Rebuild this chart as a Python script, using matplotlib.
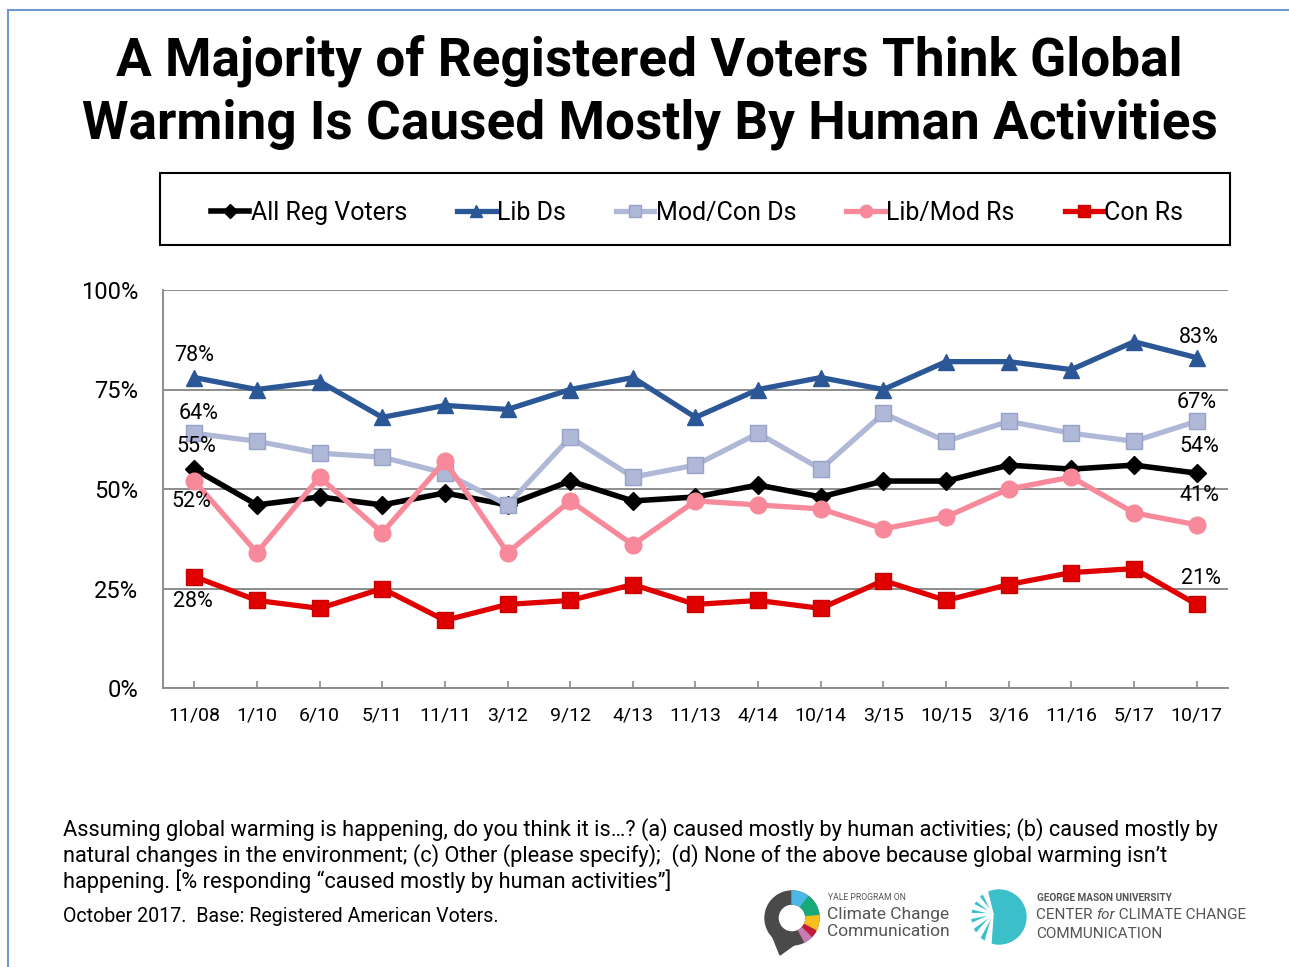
import matplotlib
matplotlib.use('Agg')
import matplotlib.pyplot as plt
from matplotlib.patches import Rectangle, Wedge, Circle, Polygon
from matplotlib.lines import Line2D
import numpy as np

plt.rcParams['font.family'] = ['Roboto', 'DejaVu Sans']

W, H = 1289, 967

dates = ['11/08', '1/10', '6/10', '5/11', '11/11', '3/12', '9/12', '4/13', '11/13',
         '4/14', '10/14', '3/15', '10/15', '3/16', '11/16', '5/17', '10/17']
all_reg = [55, 46, 48, 46, 49, 46, 52, 47, 48, 51, 48, 52, 52, 56, 55, 56, 54]
lib_ds = [78, 75, 77, 68, 71, 70, 75, 78, 68, 75, 78, 75, 82, 82, 80, 87, 83]
modcon_ds = [64, 62, 59, 58, 54, 46, 63, 53, 56, 64, 55, 69, 62, 67, 64, 62, 67]
libmod_rs = [52, 34, 53, 39, 57, 34, 47, 36, 47, 46, 45, 40, 43, 50, 53, 44, 41]
con_rs = [28, 22, 20, 25, 17, 21, 22, 26, 21, 22, 20, 27, 22, 26, 29, 30, 21]
series_names = ['All Reg Voters', 'Lib Ds', 'Mod/Con Ds', 'Lib/Mod Rs', 'Con Rs']
y_ticks = [0, 25, 50, 75, 100]
y_tick_labels = ['0%', '25%', '50%', '75%', '100%']

title_lines = ['A Majority of Registered Voters Think Global',
               'Warming Is Caused Mostly By Human Activities']
footer_lines = ['Assuming global warming is happening, do you think it is\u2026? (a) caused mostly by human activities; (b) caused mostly by',
                'natural changes in the environment; (c) Other (please specify);  (d) None of the above because global warming isn\u2019t',
                'happening. [% responding \u201ccaused mostly by human activities\u201d]']
source_line = 'October 2017.  Base: Registered American Voters.'

fig = plt.figure(figsize=(W / 100, H / 100), dpi=100)
fig.patch.set_facecolor('white')
renderer = fig.canvas.get_renderer()


def fx(x):
    return x / W


def fy(y):
    return 1 - y / H


# outer border (top & left visible)
fig.add_artist(Line2D([fx(8), fx(8)], [fy(10), fy(H + 5)], color='#6f97d2', lw=1.5))
fig.add_artist(Line2D([fx(8), fx(W + 5)], [fy(10), fy(10)], color='#6f97d2', lw=1.5))

# Title
t2 = fig.text(fx(650), fy(124), title_lines[1], ha='center', va='center',
              fontsize=38, fontweight='bold', color='black')
bb = t2.get_window_extent(renderer)
tsize = 38 * 1136 / bb.width
t2.set_fontsize(tsize)
t1 = fig.text(fx(649), fy(61), title_lines[0], ha='center', va='center',
              fontsize=tsize, fontweight='bold', color='black')

# Axes
ax = fig.add_axes([fx(163), fy(688), (1228 - 163) / W, (688 - 290) / H])
xs = np.arange(len(dates))
ax.set_xlim(-0.5, len(dates) - 0.5)
ax.set_ylim(0, 100)
ax.set_yticks(y_ticks)
ax.set_yticklabels(y_tick_labels)
ax.set_xticks(xs)
ax.set_xticklabels(dates)
ax.yaxis.grid(True, color='#8c8c8c', lw=1.4)
ax.set_axisbelow(True)
for s in ['top', 'right']:
    ax.spines[s].set_visible(False)
for s in ['left', 'bottom']:
    ax.spines[s].set_color('#8c8c8c')
    ax.spines[s].set_linewidth(1.4)
ax.tick_params(axis='y', length=0, pad=18, labelsize=17)
ax.tick_params(axis='x', length=5, direction='in', pad=13, labelsize=14,
               color='#8c8c8c', width=1.2)

styles = [
    dict(color='black', marker='D', ms=9, mfc='black', mec='black', lw=4.0),
    dict(color='#2b5797', marker='^', ms=11, mfc='#2b5797', mec='#2b5797', lw=3.8),
    dict(color='#b0b8d8', marker='s', ms=11, mfc='#b0b8d8', mec='#98a2c8', lw=3.8),
    dict(color='#f7899a', marker='o', ms=12, mfc='#f7899a', mec='#f7899a', lw=3.8),
    dict(color='#e00000', marker='s', ms=11, mfc='#e00000', mec='#c80000', lw=3.8),
]
data = [all_reg, lib_ds, modcon_ds, libmod_rs, con_rs]
handles = []
for name, vals, st in zip(series_names, data, styles):
    h, = ax.plot(xs, vals, label=name, clip_on=False, **st)
    handles.append(h)

# data labels: (series index, point index, dx px, dy px)
label_specs = [
    (1, 0, 0, 22), (2, 0, 4, 20), (0, 0, 2, 23), (3, 0, -3, -20), (4, 0, -1, -25),
    (1, -1, 2, 20), (2, -1, 0, 19), (0, -1, 3, 27), (3, -1, 3, 29), (4, -1, 4, 26),
]
for si, pi, dx, dy in label_specs:
    vals = data[si]
    idx = pi if pi >= 0 else len(vals) + pi
    ax.annotate(f'{vals[idx]}%', (xs[idx], vals[idx]), xytext=(dx, dy),
                textcoords='offset pixels', ha='center', va='center',
                fontsize=15.5, color='black', annotation_clip=False)

# Legend with separate frame
fig.add_artist(Rectangle((fx(160), fy(245)), (1230 - 160) / W, (245 - 173) / H,
                         fill=False, edgecolor='black', lw=1.5,
                         transform=fig.transFigure))
leg = fig.legend(handles=handles, labels=series_names, loc='center',
                 bbox_to_anchor=(fx(697), fy(213)), ncol=5, frameon=False,
                 fontsize=18, handlelength=1.55, handletextpad=0.05,
                 columnspacing=2.0, markerscale=0.75)

# Footer text
ft = fig.text(fx(63), fy(830), footer_lines[0], ha='left', va='center', fontsize=15,
              color='black')
bb = ft.get_window_extent(renderer)
fsize = 15 * 1155 / bb.width
ft.set_fontsize(fsize)
fig.text(fx(63), fy(856), footer_lines[1], ha='left', va='center', fontsize=fsize)
fig.text(fx(63), fy(881), footer_lines[2], ha='left', va='center', fontsize=fsize)
st_ = fig.text(fx(63), fy(917), source_line, ha='left', va='center', fontsize=13)
bb = st_.get_window_extent(renderer)
st_.set_fontsize(13 * 434 / bb.width)

# Yale logo
lax = fig.add_axes([fx(760), fy(956), 64 / W, 72 / H])
lax.set_xlim(-32, 32)
lax.set_ylim(-38, 34)
lax.set_aspect('equal')
lax.axis('off')
lax.add_patch(Polygon([[-22, -12], [-12, -37], [6, -24]], closed=True, color='#4a4a4a'))
lax.add_patch(Wedge((0, 0), 27, -150, 90, width=13, color='#4a4a4a'))
lax.add_patch(Wedge((0, 0), 27, 90, 210, width=13, color='#4a4a4a'))
segs = [(52, 90, '#4db8e6'), (5, 52, '#17a97a'), (-28, 5, '#f6bf1c'),
        (-45, -28, '#c21a3b'), (-62, -45, '#c77bb1')]
for a0, a1, c in segs:
    lax.add_patch(Wedge((0, 0), 27, a0, a1, width=13, color=c))
fig.text(fx(828), fy(898), 'YALE PROGRAM ON', fontsize=6.2, color='#555555',
         ha='left', va='center')
fig.text(fx(827), fy(914), 'Climate Change', fontsize=12.5, color='#555555',
         ha='left', va='center')
fig.text(fx(827), fy(931), 'Communication', fontsize=12.5, color='#555555',
         ha='left', va='center')

# George Mason logo
gax = fig.add_axes([fx(966), fy(948), 62 / W, 62 / H])
gax.set_xlim(-31, 31)
gax.set_ylim(-31, 31)
gax.set_aspect('equal')
gax.axis('off')
gax.add_patch(Circle((2, 0), 27, color='#3bbfc9'))
cx, cy = -4, 3
for ang in np.linspace(110, 260, 7):
    a = np.deg2rad(ang)
    da = np.deg2rad(6)
    r = 30
    p1 = (cx + r * np.cos(a - da), cy + r * np.sin(a - da))
    p2 = (cx + r * np.cos(a + da), cy + r * np.sin(a + da))
    gax.add_patch(Polygon([[cx, cy], p1, p2], closed=True, color='white'))
fig.text(fx(1037), fy(898), 'GEORGE MASON UNIVERSITY', fontsize=7.2, color='#555555',
         ha='left', va='center', fontweight='bold')
xpos = 1036
for part, sty in [('CENTER ', 'normal'), ('for', 'italic'), (' CLIMATE CHANGE', 'normal')]:
    tt = fig.text(fx(xpos), fy(915), part, fontsize=11, color='#555555',
                  ha='left', va='center', style=sty)
    xpos += tt.get_window_extent(renderer).width
fig.text(fx(1036), fy(934), 'COMMUNICATION', fontsize=11, color='#555555',
         ha='left', va='center')

fig.savefig('out.png', dpi=100, facecolor='white')
